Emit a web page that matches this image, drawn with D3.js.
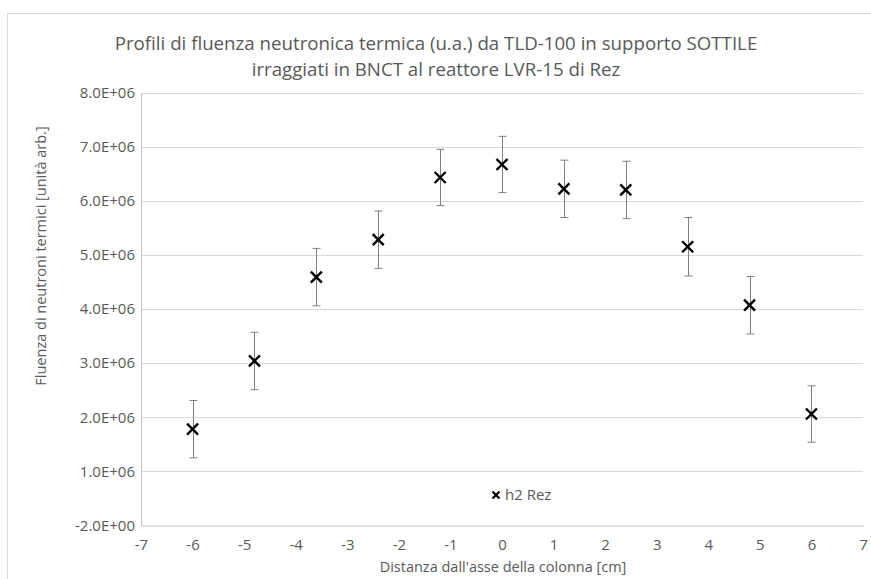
<!DOCTYPE html>
<html><head><meta charset="utf-8">
<script src="https://cdn.jsdelivr.net/npm/d3@7"></script>
<style>
body{margin:0;background:#fff;}
text{font-family:"Open Sans","Noto Sans",sans-serif;}
</style></head>
<body><svg id="c" width="871" height="579"></svg>
<script>
const xValues = [-6, -4.8, -3.6, -2.4, -1.2, 0, 1.2, 2.4, 3.6, 4.8, 6];
const yValues = [1.78e6, 3.04e6, 4.59e6, 5.28e6, 6.43e6, 6.67e6, 6.22e6, 6.20e6, 5.15e6, 4.07e6, 2.06e6];
const yErrors = [0.53e6, 0.53e6, 0.53e6, 0.53e6, 0.52e6, 0.52e6, 0.53e6, 0.53e6, 0.54e6, 0.53e6, 0.52e6];
const xTicks = [-7,-6,-5,-4,-3,-2,-1,0,1,2,3,4,5,6,7];
const yTicks = [0,1e6,2e6,3e6,4e6,5e6,6e6,7e6,8e6];
const yTickLabels = ["-2.0E+00","1.0E+06","2.0E+06","3.0E+06","4.0E+06","5.0E+06","6.0E+06","7.0E+06","8.0E+06"];
const seriesName = "h2 Rez";
const titleLines = ["Profili di fluenza neutronica termica (u.a.) da TLD-100 in supporto SOTTILE","irraggiati in BNCT al reattore LVR-15 di Rez"];
const xTitle = "Distanza dall'asse della colonna [cm]";
const yTitle = "Fluenza di neutroni termici [unità arb.]";

const svg = d3.select("#c");
const L=141, R=863, T=92.5, B=525.5;
const x = d3.scaleLinear().domain([-7,7]).range([L,R]);
const y = d3.scaleLinear().domain([0,8e6]).range([B,T]);
const grey="#595959";

svg.append("rect").attr("x",7.5).attr("y",13.5).attr("width",880).attr("height",600)
  .attr("fill","none").attr("stroke","#d9d9d9").attr("stroke-width",1);

svg.append("g").selectAll("text").data(titleLines).join("text")
  .attr("x",436).attr("y",(d,i)=>50+i*26).attr("text-anchor","middle")
  .attr("font-size",18.7).attr("fill",grey).text(d=>d);

svg.append("g").selectAll("line").data(yTicks.slice(1)).join("line")
  .attr("x1",L).attr("x2",R).attr("y1",d=>Math.round(y(d))+0.5).attr("y2",d=>Math.round(y(d))+0.5)
  .attr("stroke","#d9d9d9").attr("stroke-width",1);

const yAxis = d3.axisLeft(y).tickValues(yTicks).tickFormat((d,i)=>yTickLabels[i]).tickSize(0).tickPadding(6);
const gy = svg.append("g").attr("transform",`translate(${L},0)`).call(yAxis);
gy.select(".domain").attr("stroke","#bfbfbf");
gy.selectAll("text").attr("font-size",15).attr("fill",grey);

const xAxis = d3.axisBottom(x).tickValues(xTicks).tickFormat(d=>String(d)).tickSize(0).tickPadding(14);
const gx = svg.append("g").attr("transform",`translate(0,${B})`).call(xAxis);
gx.select(".domain").attr("stroke","#bfbfbf");
gx.selectAll("text").attr("font-size",15).attr("fill",grey);

svg.append("text").attr("x",503).attr("y",572).attr("text-anchor","middle")
  .attr("font-size",14.5).attr("fill",grey).text(xTitle);
svg.append("text").attr("transform",`translate(46,256) rotate(-90)`).attr("text-anchor","middle")
  .attr("font-size",14.5).attr("fill",grey).text(yTitle);

const data = xValues.map((v,i)=>({x:v,y:yValues[i],e:yErrors[i]}));
const eg = svg.append("g").attr("stroke","#7f7f7f").attr("stroke-width",1);
data.forEach(d=>{
  const cx=Math.round(x(d.x))+0.5;
  eg.append("line").attr("x1",cx).attr("x2",cx).attr("y1",y(d.y+d.e)).attr("y2",y(d.y-d.e));
  eg.append("line").attr("x1",cx-4).attr("x2",cx+4).attr("y1",y(d.y+d.e)).attr("y2",y(d.y+d.e));
  eg.append("line").attr("x1",cx-4).attr("x2",cx+4).attr("y1",y(d.y-d.e)).attr("y2",y(d.y-d.e));
});
const cross = (g,cx,cy,s,w)=>{
  g.append("path").attr("d",`M${cx-s},${cy-s}L${cx+s},${cy+s}M${cx-s},${cy+s}L${cx+s},${cy-s}`)
   .attr("stroke","#000").attr("stroke-width",w).attr("fill","none");
};
const mg = svg.append("g");
data.forEach(d=>cross(mg,x(d.x),y(d.y),5.5,2.4));

const lg = svg.append("g");
cross(lg,496,495,3.5,2.2);
lg.append("text").attr("x",505).attr("y",500).attr("font-size",15).attr("fill",grey).text(seriesName);
</script></body></html>
